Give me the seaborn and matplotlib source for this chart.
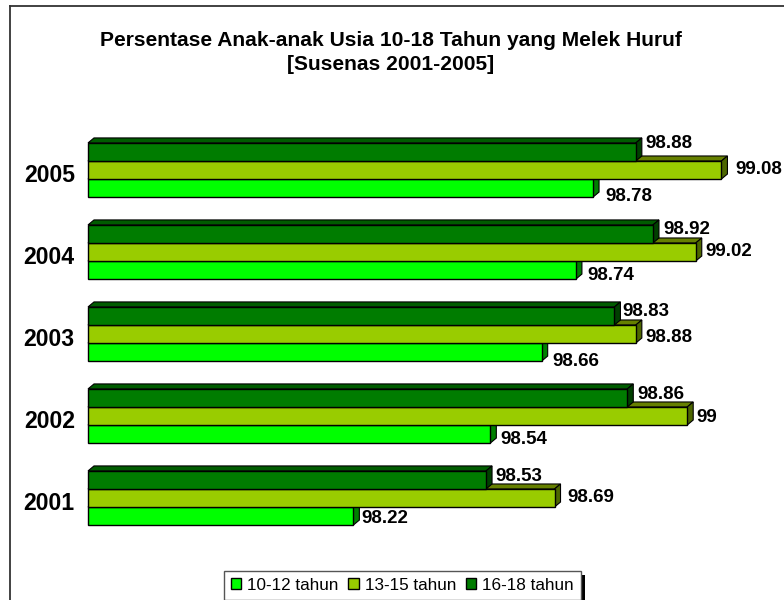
import matplotlib
matplotlib.use('Agg')
import matplotlib.pyplot as plt
from matplotlib.lines import Line2D
from matplotlib.patches import Polygon, Patch, Rectangle
from matplotlib.transforms import ScaledTranslation
import seaborn as sns
import pandas as pd

# Data
years = ['2005', '2004', '2003', '2002', '2001']
age_10_12 = [98.78, 98.74, 98.66, 98.54, 98.22]
age_13_15 = [99.08, 99.02, 98.88, 99, 98.69]
age_16_18 = [98.88, 98.92, 98.83, 98.86, 98.53]
groups = ['10-12 tahun', '13-15 tahun', '16-18 tahun']
front_colors = ['#00FF00', '#99CC00', '#007C00']
side_colors = ['#008000', '#4D6600', '#004000']
top_colors = ['#00A000', '#668000', '#005C00']

# label nudges in pixels, one per bar, same order as years
nudge_x = [[12, 11, 11, 10, 8], [14, 10, 10, 9, 13], [10, 10, 8, 10, 9]]
nudge_y = [[8, 5, 9, 5, 2], [-1, 0, 3, 1, 0], [-8, -4, -4, -3, -3]]

base = 97.6
depth_px = (6, 5)

plt.rcParams['font.family'] = ['Liberation Sans', 'DejaVu Sans']

rows = []
for name, vals in zip(groups, [age_10_12, age_13_15, age_16_18]):
    for y, v in zip(years, vals):
        rows.append({'year': y, 'group': name, 'value': v})
df = pd.DataFrame(rows)

W, H = 784, 600
fig = plt.figure(figsize=(7.84, 6), dpi=100, facecolor='white')
ax = fig.add_axes([88 / W, 1 - 539 / H, (750 - 88) / W, (539 - 129) / H])

sns.barplot(data=df, y='year', x='value', hue='group', order=years,
            hue_order=groups[::-1], palette=dict(zip(groups, front_colors)),
            width=0.66, gap=0, dodge=True, errorbar=None, legend=False, saturation=1,
            edgecolor='black', linewidth=1, ax=ax, zorder=5)

ax.set_xlim(base, base + (750 - 88) / 428)
ax.set_ylim(4.5, -0.5)
sx = (ax.get_xlim()[1] - base) / (750 - 88)
sy = 5 / (539 - 129)
dx, dy = depth_px[0] * sx, depth_px[1] * sy

# every bar starts at the axis floor, then gets its 3D faces
for g in range(3):
    cont = ax.containers[2 - g]
    for i, bar in enumerate(cont):
        val = bar.get_x() + bar.get_width()
        bar.set_x(base)
        bar.set_width(val - base)
        top = min(bar.get_y(), bar.get_y() + bar.get_height())
        bot = max(bar.get_y(), bar.get_y() + bar.get_height())
        z = 1 + g * 2
        bar.set_zorder(z + 1)
        bar.set_clip_on(False)
        ax.add_patch(Polygon([(base, top), (base + dx, top - dy), (val + dx, top - dy), (val, top)],
                             facecolor=top_colors[g], edgecolor='black', linewidth=0.8,
                             zorder=z, clip_on=False))
        ax.add_patch(Polygon([(val, top), (val + dx, top - dy), (val + dx, bot - dy), (val, bot)],
                             facecolor=side_colors[g], edgecolor='black', linewidth=0.8,
                             zorder=z, clip_on=False))
        ax.annotate(f'{val:g}', xy=(val, (top + bot) / 2),
                    xytext=(nudge_x[g][i] * 0.72, -nudge_y[g][i] * 0.72),
                    textcoords='offset points', ha='left', va='center',
                    fontsize=13.5, fontweight='bold', color='black', zorder=20)

ax.set_xlabel('')
ax.set_ylabel('')
ax.set_xticks([])
ax.tick_params(axis='y', length=0, pad=9.5)
shift = ScaledTranslation(0, -2.5 / 100, fig.dpi_scale_trans)
for lab in ax.get_yticklabels():
    lab.set_fontsize(16.6)
    lab.set_fontweight('bold')
    lab.set_transform(lab.get_transform() + shift)
sns.despine(ax=ax, left=True, bottom=True)
ax.patch.set_alpha(0)

fig.text(391 / W, 1 - 40 / H, 'Persentase Anak-anak Usia 10-18 Tahun yang Melek Huruf',
         ha='center', va='center', fontsize=15.1, fontweight='bold')
fig.text(391 / W, 1 - 64 / H, '[Susenas 2001-2005]',
         ha='center', va='center', fontsize=15.1, fontweight='bold')

# chart frame runs off the right and bottom of the picture
fig.add_artist(Line2D([10 / W, 10 / W], [0, 1 - 6 / H], color='#333333', lw=1.3))
fig.add_artist(Line2D([10 / W, 1], [1 - 6 / H, 1 - 6 / H], color='#333333', lw=1.3))

# legend box with a hard shadow, cut by the lower edge
fig.add_artist(Rectangle((228 / W, 0), 356.5 / W, 1 - 575 / H, facecolor='black', edgecolor='none'))
handles = [Patch(facecolor=c, edgecolor='black', label=g) for c, g in zip(front_colors, groups)]
leg = fig.legend(handles=handles, loc='upper left', bbox_to_anchor=(224 / W, 1 - 571 / H),
                 bbox_transform=fig.transFigure, ncol=3, frameon=True, fancybox=False,
                 edgecolor='#555555', facecolor='white', framealpha=1, fontsize=12.3,
                 handlelength=0.6, handleheight=0.6, handletextpad=0.35, columnspacing=0.58,
                 borderpad=0.4, borderaxespad=0)
leg.get_frame().set_linewidth(1)

fig.savefig('out.png', dpi=100)
